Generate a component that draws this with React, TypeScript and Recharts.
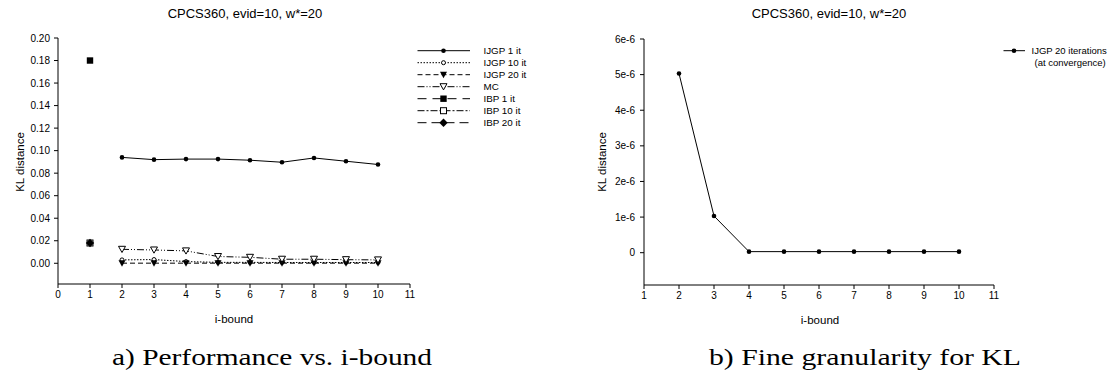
import React from 'react';
import { LineChart, Line, XAxis, YAxis } from 'recharts';

// ---------- data ----------
const CATEGORIES = [1, 2, 3, 4, 5, 6, 7, 8, 9, 10];
const IJGP_1 = [null, 0.094, 0.092, 0.0925, 0.0925, 0.0915, 0.0897, 0.0935, 0.0906, 0.0877];
const IJGP_10 = [null, 0.003, 0.0033, 0.0015, 0.0008, 0.0008, 0.0007, 0.0007, 0.0007, 0.0007];
const IJGP_20 = [null, 0.0001, 0.0001, 0.0001, 0.0001, 0.0001, 0.0001, 0.0001, 0.0001, 0.0001];
const MC = [null, 0.0124, 0.0118, 0.011, 0.006, 0.0053, 0.0036, 0.0036, 0.0032, 0.003];
const IBP_1 = [0.18, null, null, null, null, null, null, null, null, null];
const IBP_10 = [0.018, null, null, null, null, null, null, null, null, null];
const IBP_20 = [0.018, null, null, null, null, null, null, null, null, null];

const KL_CATEGORIES = [2, 3, 4, 5, 6, 7, 8, 9, 10];
const IJGP_20_CONV = [5.03e-6, 1.03e-6, 0.03e-6, 0.03e-6, 0.03e-6, 0.03e-6, 0.03e-6, 0.03e-6, 0.03e-6];

const LEFT_X_TICKS = [0, 1, 2, 3, 4, 5, 6, 7, 8, 9, 10, 11];
const LEFT_Y_TICKS = [0, 0.02, 0.04, 0.06, 0.08, 0.1, 0.12, 0.14, 0.16, 0.18, 0.2];
const RIGHT_X_TICKS = [1, 2, 3, 4, 5, 6, 7, 8, 9, 10, 11];
const RIGHT_Y_TICKS = [0, 1e-6, 2e-6, 3e-6, 4e-6, 5e-6, 6e-6];

const TITLE = 'CPCS360, evid=10, w*=20';
const CAPTION_A = 'a) Performance vs. i-bound';
const CAPTION_B = 'b) Fine granularity for KL';

const SERIES = [
  { key: 'ijgp1', name: 'IJGP 1 it', values: IJGP_1, dash: undefined, shape: 'circle' },
  { key: 'ijgp10', name: 'IJGP 10 it', values: IJGP_10, dash: '1.5 1.5', shape: 'circleOpen' },
  { key: 'ijgp20', name: 'IJGP 20 it', values: IJGP_20, dash: '5 3', shape: 'triDown' },
  { key: 'mc', name: 'MC', values: MC, dash: '7 2 1 2 1 2', shape: 'triDownOpen' },
  { key: 'ibp1', name: 'IBP 1 it', values: IBP_1, dash: '9 6', shape: 'square' },
  { key: 'ibp10', name: 'IBP 10 it', values: IBP_10, dash: '7 2 2 2', shape: 'squareOpen' },
  { key: 'ibp20', name: 'IBP 20 it', values: IBP_20, dash: '9 5', shape: 'diamond' },
];

const leftData = CATEGORIES.map((x, i) => {
  const row: any = { x };
  SERIES.forEach((s) => (row[s.key] = s.values[i]));
  return row;
});
const rightData = KL_CATEGORIES.map((x, i) => ({ x, kl: IJGP_20_CONV[i] }));

const FONT = '"Liberation Sans", Arial, sans-serif';

// ---------- markers ----------
function Marker({ shape, cx, cy, big }: { shape: string; cx: number; cy: number; big?: boolean }) {
  switch (shape) {
    case 'circle':
      return <circle cx={cx} cy={cy} r={2.3} fill="#000" stroke="none" />;
    case 'circleOpen':
      return <circle cx={cx} cy={cy} r={2} fill="#fff" stroke="#000" strokeWidth={1} />;
    case 'triDown':
      return <path d={`M${cx - 3.5},${cy - 3} L${cx + 3.5},${cy - 3} L${cx},${cy + 3.5} Z`} fill="#000" />;
    case 'triDownOpen':
      return (
        <path
          d={`M${cx - 3.5},${cy - 3} L${cx + 3.5},${cy - 3} L${cx},${cy + 3.2} Z`}
          fill="#fff"
          stroke="#000"
          strokeWidth={1}
        />
      );
    case 'square':
      return <rect x={cx - 3.2} y={cy - 3.2} width={6.4} height={6.4} fill="#000" />;
    case 'squareOpen':
      return <rect x={cx - 3} y={cy - 3} width={6} height={6} fill="#fff" stroke="#000" strokeWidth={1} />;
    case 'diamond':
      return <path d={`M${cx},${cy - 4.2} L${cx + 4.2},${cy} L${cx},${cy + 4.2} L${cx - 4.2},${cy} Z`} fill="#000" />;
    default:
      return null;
  }
}

const makeDot = (shape: string) => (props: any) => {
  const { cx, cy, index } = props;
  const key = `${shape}-${index}`;
  if (cx == null || cy == null || Number.isNaN(cx) || Number.isNaN(cy)) return <g key={key} />;
  return (
    <g key={key}>
      <Marker shape={shape} cx={cx} cy={cy} />
    </g>
  );
};

const tickStyle = { fontSize: 10, fill: '#000', fontFamily: FONT };
const axisLine = { stroke: '#000', strokeWidth: 1 };

export default function App() {
  const legendRows = [50.7, 62.7, 74.7, 86.7, 98.7, 110.7, 122.7];
  return (
    <div
      style={{
        position: 'absolute',
        left: 0,
        top: 0,
        width: 1110,
        height: 380,
        background: '#fff',
        overflow: 'hidden',
        fontFamily: FONT,
      }}
    >
      {/* Left chart */}
      <div style={{ position: 'absolute', left: 0, top: 0 }}>
        <LineChart width={420} height={300} data={leftData} margin={{ top: 38, right: 10, bottom: 2, left: 0 }}>
          <XAxis
            dataKey="x"
            type="number"
            domain={[0, 11]}
            ticks={LEFT_X_TICKS}
            interval={0}
            allowDataOverflow
            height={14}
            tick={tickStyle}
            tickSize={4}
            tickMargin={3}
            axisLine={axisLine}
            tickLine={axisLine}
          />
          <YAxis
            type="number"
            domain={[-0.0184, 0.2]}
            ticks={LEFT_Y_TICKS}
            interval={0}
            allowDataOverflow
            width={58}
            tick={tickStyle}
            tickSize={4}
            tickMargin={4}
            axisLine={axisLine}
            tickLine={axisLine}
            tickFormatter={(v: number) => v.toFixed(2)}
          />
          {SERIES.map((s) => (
            <Line
              key={s.key}
              dataKey={s.key}
              name={s.name}
              stroke="#000"
              strokeWidth={1}
              strokeDasharray={s.dash}
              dot={makeDot(s.shape)}
              activeDot={false}
              isAnimationActive={false}
              connectNulls={false}
            />
          ))}
        </LineChart>
      </div>

      {/* Right chart */}
      <div style={{ position: 'absolute', left: 560, top: 0 }}>
        <LineChart width={440} height={300} data={rightData} margin={{ top: 39, right: 6, bottom: 1, left: 0 }}>
          <XAxis
            dataKey="x"
            type="number"
            domain={[1, 11]}
            ticks={RIGHT_X_TICKS}
            interval={0}
            allowDataOverflow
            height={14}
            tick={tickStyle}
            tickSize={4}
            tickMargin={3}
            axisLine={axisLine}
            tickLine={axisLine}
          />
          <YAxis
            type="number"
            domain={[-0.907e-6, 6e-6]}
            ticks={RIGHT_Y_TICKS}
            interval={0}
            allowDataOverflow
            width={84}
            tick={tickStyle}
            tickSize={4}
            tickMargin={5}
            axisLine={axisLine}
            tickLine={axisLine}
            tickFormatter={(v: number) => (v === 0 ? '0' : `${Math.round(v * 1e6)}e-6`)}
          />
          <Line
            dataKey="kl"
            name="IJGP 20 iterations (at convergence)"
            stroke="#000"
            strokeWidth={1}
            dot={makeDot('circle')}
            activeDot={false}
            isAnimationActive={false}
          />
        </LineChart>
      </div>

      {/* Text overlay: titles, axis labels, legends, captions */}
      <svg
        width={1110}
        height={380}
        style={{ position: 'absolute', left: 0, top: 0, pointerEvents: 'none' }}
      >
        <g fontFamily={FONT} fill="#000">
          <text x={245} y={18} fontSize={13} textAnchor="middle">{TITLE}</text>
          <text x={829} y={18} fontSize={13} textAnchor="middle">{TITLE}</text>
          <text x={234} y={323} fontSize={11.5} textAnchor="middle">i-bound</text>
          <text x={820} y={324} fontSize={11.5} textAnchor="middle">i-bound</text>
          <text transform="translate(24,162) rotate(-90)" fontSize={11.5} textAnchor="middle">KL distance</text>
          <text transform="translate(606,162) rotate(-90)" fontSize={11.5} textAnchor="middle">KL distance</text>
        </g>

        {/* left legend */}
        {SERIES.map((s, i) => (
          <g key={s.key}>
            <line x1={417.5} x2={470} y1={legendRows[i]} y2={legendRows[i]} stroke="#000" strokeWidth={1} strokeDasharray={s.dash} />
            <Marker shape={s.shape} cx={443.5} cy={legendRows[i]} />
            <text x={483.5} y={legendRows[i] + 3.5} fontSize={9.8} fontFamily={FONT} fill="#000">
              {s.name}
            </text>
          </g>
        ))}

        {/* right legend */}
        <line x1={1003.5} x2={1025} y1={50.7} y2={50.7} stroke="#000" strokeWidth={1} />
        <Marker shape="circle" cx={1014} cy={50.7} />
        <text x={1031.5} y={54.2} fontSize={9.5} fontFamily={FONT} fill="#000">IJGP 20 iterations</text>
        <text x={1034.5} y={65.8} fontSize={9.5} fontFamily={FONT} fill="#000">(at convergence)</text>

        {/* captions */}
        <text
          x={112}
          y={365}
          fontSize={24}
          fontFamily='"Liberation Serif", "Times New Roman", serif'
          textLength={320}
          lengthAdjust="spacingAndGlyphs"
          fill="#000"
        >
          {CAPTION_A}
        </text>
        <text
          x={709}
          y={365}
          fontSize={24}
          fontFamily='"Liberation Serif", "Times New Roman", serif'
          textLength={312}
          lengthAdjust="spacingAndGlyphs"
          fill="#000"
        >
          {CAPTION_B}
        </text>
      </svg>
    </div>
  );
}
